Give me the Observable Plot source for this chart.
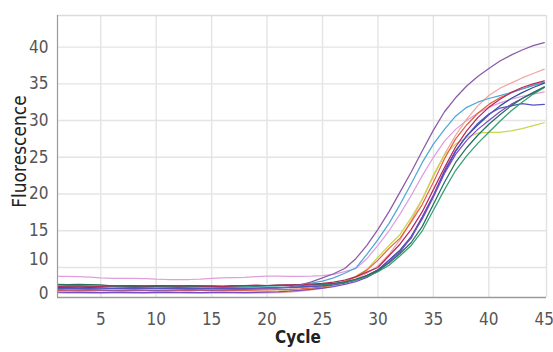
<!DOCTYPE html>
<html>
<head>
<meta charset="utf-8">
<script src="https://cdn.jsdelivr.net/npm/d3@7"></script>
<script src="https://cdn.jsdelivr.net/npm/@observablehq/plot@0.6"></script>
<style>
  html, body { margin: 0; padding: 0; background: #fff; }
  #chart svg { display: block; }
</style>
</head>
<body>
<div id="chart"></div>
<script>
// ---- Data ----
const cycles = [1,2,3,4,5,6,7,8,9,10,11,12,13,14,15,16,17,18,19,20,21,22,23,24,25,26,27,28,29,30,31,32,33,34,35,36,37,38,39,40,41,42,43,44,45];

const s01 = [6.6,6.6,6.5,6.3,6.0,5.8,5.8,5.8,5.7,5.5,5.4,5.4,5.4,5.5,5.8,6.0,6.1,6.2,6.5,6.7,6.7,6.6,
  6.6,6.7,6.9,7.4,8.4,9.6,11.2,13.0,15.0,17.3,19.8,22.5,25.0,27.2,28.8,30.0,31.0,31.8,32.4,32.9,33.3,33.6,33.9];
const s02 = [0.3,0.2,0.2,0.1,0.2,0.3,0.2,0.1,0.2,0.3,0.2,0.2,0.1,0.2,0.3,0.2,0.2,0.3,0.2,0.3,0.4,0.6,
  0.9,1.4,2.0,2.9,4.1,5.7,7.8,10.2,11.8,13.8,16.4,19.3,22.4,25.4,28.0,30.2,32.0,33.4,34.4,35.1,35.8,36.4,37.0];
const s03 = [0.6,0.5,0.6,0.7,0.6,0.5,0.6,0.5,0.6,0.7,0.6,0.5,0.6,0.4,0.3,0.4,0.5,0.6,0.7,0.8,0.9,1.1,
  1.4,1.8,2.4,3.3,4.6,6.6,9.2,11.4,13.0,14.5,16.8,19.3,22.6,25.3,26.8,27.7,28.3,28.4,28.4,28.6,28.9,29.3,29.7];
const s04 = [1.2,1.1,1.2,1.3,1.2,1.1,1.2,1.3,1.2,1.1,1.2,1.2,1.3,1.2,1.1,1.2,1.3,1.2,1.3,1.4,1.5,1.6,
  1.8,2.1,2.6,3.4,4.6,6.4,9.0,11.0,12.6,14.0,16.2,18.6,21.6,24.8,27.5,29.4,31.0,32.2,33.1,33.8,34.3,34.8,35.2];
const s05 = [2.6,2.7,2.6,2.5,2.6,2.7,2.6,2.5,2.6,2.5,2.6,2.7,2.6,2.5,2.6,2.7,2.6,2.7,2.8,2.9,3.0,3.2,
  3.5,4.0,4.8,6.0,7.8,9.8,11.8,13.8,16.0,18.6,21.4,24.3,26.8,28.8,30.6,31.8,32.5,33.0,33.4,33.8,34.3,34.8,35.2];
const s06 = [2.4,2.3,2.2,2.3,2.2,2.0,2.1,2.2,2.1,2.0,2.1,2.2,2.1,2.0,2.1,2.2,2.1,2.0,2.1,2.2,2.3,2.4,
  2.6,2.8,3.1,3.5,4.2,5.3,6.9,9.1,11.0,12.4,14.2,16.9,19.8,23.0,25.8,27.9,29.4,30.8,32.0,33.0,33.8,34.5,35.1];
const s07 = [2.0,2.1,2.0,1.9,1.8,1.9,2.0,2.1,2.0,1.9,2.0,2.1,2.0,1.9,1.8,1.9,2.0,2.1,2.0,2.1,2.2,2.3,
  2.5,2.7,3.0,3.4,4.1,5.2,6.8,9.0,11.0,12.3,14.0,16.8,19.8,23.2,25.9,27.9,29.6,30.9,31.7,32.0,32.3,32.1,32.2];
const s08 = [0.6,0.5,0.6,0.5,0.4,0.5,0.6,0.5,0.4,0.5,0.6,0.5,0.5,0.4,0.5,0.6,0.5,0.4,0.5,0.6,0.7,0.9,
  1.2,1.6,2.1,2.7,3.5,4.6,6.2,8.6,10.8,12.1,14.2,16.6,19.6,22.8,25.4,27.3,28.8,30.0,31.2,32.2,33.0,33.8,34.5];
const s09 = [2.9,3.0,2.9,2.8,2.9,3.0,2.9,2.8,2.9,3.0,2.9,2.8,2.9,3.0,2.9,2.8,2.9,3.0,3.0,3.1,3.1,3.1,
  3.1,3.2,3.4,3.7,4.3,5.2,6.5,8.4,10.3,11.6,13.0,15.0,17.8,20.6,23.2,25.2,26.9,28.4,29.9,31.3,32.5,33.6,34.5];
const s10 = [3.5,3.4,3.5,3.4,3.3,3.0,2.9,2.8,2.9,2.8,2.9,3.0,2.9,2.8,2.9,2.8,3.0,3.1,3.0,3.1,3.2,3.2,
  3.3,3.4,3.6,3.9,4.5,5.5,6.9,8.8,10.6,11.9,13.4,15.6,18.6,21.6,24.3,26.3,28.0,29.5,30.8,32.0,33.0,33.8,34.6];
const s11 = [2.8,2.9,3.0,2.9,2.8,3.0,3.1,3.1,3.0,3.1,3.1,3.0,3.1,3.0,2.9,2.8,3.0,3.1,3.2,3.1,3.2,3.3,
  3.4,3.6,3.9,4.4,5.2,6.4,8.2,10.0,11.6,13.2,15.2,17.6,20.6,23.6,26.4,28.6,30.4,31.8,32.9,33.8,34.5,35.0,35.4];
const s12 = [1.5,1.4,1.4,1.5,1.3,1.2,1.3,1.4,1.3,1.2,1.3,1.4,1.5,1.4,1.3,1.4,1.5,1.6,1.7,1.9,2.2,2.6,
  3.3,4.5,6.0,7.6,9.6,11.2,13.0,15.2,17.6,20.3,23.0,25.9,28.7,31.2,33.1,34.7,36.0,37.1,38.1,38.9,39.6,40.2,40.6];

const seriesNames = ["Sample 1","Sample 2","Sample 3","Sample 4","Sample 5","Sample 6","Sample 7","Sample 8","Sample 9","Sample 10","Sample 11","Sample 12"];
const seriesValues = [s01, s02, s03, s04, s05, s06, s07, s08, s09, s10, s11, s12];
const seriesColors = ["#df9fdd","#f1a6a2","#c9d74e","#e3643f","#4ea8d5","#304f98","#5652c2","#7b4bc3","#33a072","#27705f","#b9265c","#8c5aa6"];

const xTicks = [5,10,15,20,25,30,35,40,45];
const yTicks = [0,15,20,25,30,35,40];
const yTickShifted = [10];
const yGrid = [10,15,20,25,30,35,40];

// ---- Table for Plot ----
const rows = [];
seriesNames.forEach((name, s) => {
  cycles.forEach((c, i) => rows.push({cycle: c, value: seriesValues[s][i], series: name}));
});

const font = '"Liberation Sans Narrow", "DejaVu Sans Condensed", "Arial Narrow", sans-serif';
const xMin = 1.1, xMax = 45.2, yMin = -1.5, yMax = 44.3;

const chart = Plot.plot({
  width: 553,
  height: 352,
  marginLeft: 57,
  marginRight: 7,
  marginTop: 15,
  marginBottom: 55,
  style: {fontFamily: font, fontSize: "17px", background: "#fff", overflow: "visible"},
  x: {type: "linear", domain: [xMin, xMax], range: [57, 546]},
  y: {type: "linear", domain: [yMin, 10, yMax], range: [297, 267, 15]},
  color: {type: "ordinal", domain: seriesNames, range: seriesColors},
  marks: [
    Plot.gridX(xTicks.slice(0, -1), {stroke: "#e4e4e4", strokeOpacity: 1, strokeWidth: 1.4}),
    Plot.gridY(yGrid, {stroke: "#e4e4e4", strokeOpacity: 1, strokeWidth: 1.4}),
    Plot.ruleY([yMax], {stroke: "#dcdcdc", strokeWidth: 1.4}),
    Plot.ruleX([xMax], {stroke: "#e0e0e0", strokeWidth: 1.4}),
    Plot.line(rows, {x: "cycle", y: "value", z: "series", stroke: "series", strokeWidth: 1.25, clip: true}),
    Plot.ruleX([xMin], {stroke: "#9a9a9a", strokeWidth: 1.2}),
    Plot.ruleY([yMin], {stroke: "#9a9a9a", strokeWidth: 1.4}),
    Plot.axisX(xTicks, {tickSize: 0, tickPadding: 15, fill: "#555", fontSize: 17, label: null}),
    Plot.axisY(yTicks, {tickSize: 0, tickPadding: 9, fill: "#555", fontSize: 17, label: null}),
    Plot.axisY(yTickShifted, {tickSize: 0, tickPadding: 9, dy: -8, fill: "#555", fontSize: 17, label: null}),
    Plot.text(["Cycle"], {frameAnchor: "bottom", textAnchor: "middle", dx: -4, dy: 45, text: d => d, fill: "#222", fontSize: 17, fontWeight: 600}),
    Plot.text(["Fluorescence"], {frameAnchor: "left", textAnchor: "middle", dx: -38, dy: -5, rotate: -90, text: d => d, fill: "#222", fontSize: 19})
  ]
});
document.getElementById("chart").appendChild(chart);
</script>
</body>
</html>
